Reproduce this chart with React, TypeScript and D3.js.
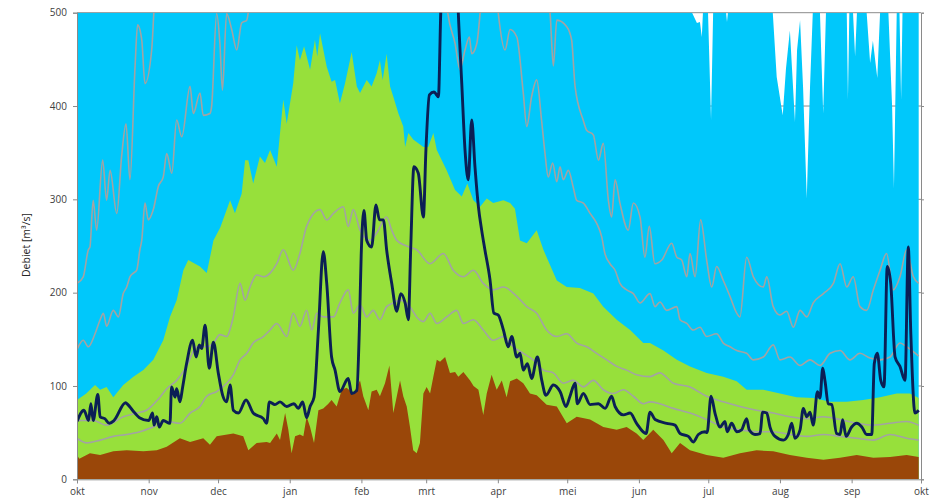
import { useEffect, useRef } from "react";
import * as d3 from "d3";

type Pt = [number, number];

// axis categories
const monthLabels = ["okt", "nov", "dec", "jan", "feb", "mrt", "apr", "mei", "jun", "jul", "aug", "sep", "okt"];
const monthStartDays = [0, 31, 61, 92, 123, 151, 182, 212, 243, 273, 304, 335, 365];
const yTicks = [0, 100, 200, 300, 400, 500];

// [days since 1 okt, m³/s]
const maxFlow: Pt[] = [
  [0, 500], [266, 500], [268.1, 489], [269.4, 490], [270.2, 474], [270.7, 500], [272.9, 500], [274.2, 385],
  [275.1, 500], [280.7, 500], [281.1, 490], [281.5, 500], [300.9, 500], [302.6, 431], [305.2, 390],
  [306.6, 440], [308.3, 481], [310.5, 383], [311.4, 460], [312.7, 492], [314, 420], [315.6, 301], [317, 420],
  [318.2, 500], [321.3, 500], [322.7, 392], [323.9, 500], [332.9, 500], [333.4, 407], [334, 500], [335.6, 500],
  [336.5, 453], [337.3, 500], [341.5, 500], [343, 446], [344.2, 470], [346.1, 430], [347.3, 500], [350.9, 500],
  [352.5, 400], [353.3, 312], [354.5, 500], [355.7, 500], [356.4, 407], [357, 500], [364, 500],
];

const upperBand: Pt[] = [
  [0, 85], [4, 92], [7.8, 101], [10, 96], [12.8, 99], [15.7, 88], [20, 101], [24.4, 110], [28.7, 117], [33, 128],
  [37.3, 149], [40.2, 174], [43.1, 192], [46, 224], [48.1, 235], [53.2, 228], [56.1, 221], [58.2, 246], [59, 256],
  [62, 270], [66.2, 299], [68.3, 285], [71.2, 306], [72.7, 342], [74.1, 342], [76.2, 317], [79.1, 346], [81.3, 339],
  [83.5, 353], [86.4, 335], [89.2, 407], [90.7, 381], [93.5, 424], [95, 465], [96.4, 449], [98.2, 464],
  [100.8, 439], [102.9, 471], [103.9, 453], [105.1, 478], [108, 442], [110.1, 426], [111.6, 428], [113.7, 403],
  [115.9, 424], [118.8, 458], [121, 421], [122.4, 414], [125.3, 428], [127.4, 421], [129.6, 435], [131, 449],
  [132.2, 428], [133.9, 456], [135.4, 421], [136.8, 410], [139, 392], [141.1, 378], [141.9, 356], [143.3, 371],
  [145.4, 364], [147.6, 360], [149.8, 356], [151.9, 356], [154.1, 371], [155.6, 353], [159.9, 331], [163.5, 310],
  [166.4, 303], [168.8, 317], [171.4, 299], [174.3, 292], [177.2, 301], [180, 296], [184.4, 299], [187.3, 296],
  [189.4, 290], [191.6, 256], [194.5, 253], [198.8, 267], [201.7, 246], [203.1, 238], [207.5, 213], [211.8, 206],
  [217.5, 205], [223.3, 199], [227.6, 185], [233.4, 171], [239.2, 160], [244.9, 146], [247.8, 146], [253.6, 138],
  [259.4, 128], [265.1, 121], [272.3, 114], [279.5, 110], [285.3, 105], [289.6, 96], [296.8, 96], [304, 92],
  [311.2, 88], [318.4, 87], [325.7, 83], [332.9, 83], [340, 85], [347.3, 88], [354.5, 92], [360.2, 92], [364, 87],
];

const lowerBand: Pt[] = [
  [0, 26], [1, 22], [5.6, 28], [10, 26], [15.7, 30], [21.5, 31], [28.7, 30], [34.5, 31], [38.8, 35], [44.5, 44],
  [48.9, 40], [54.6, 44], [57.5, 37], [60.4, 46], [67.6, 49], [71.9, 46], [74.1, 31], [77.7, 39], [82, 40],
  [83.5, 39], [86.4, 49], [87.8, 42], [90, 71], [91.4, 53], [92.8, 28], [94.3, 46], [96.4, 48], [97.9, 46],
  [99.3, 67], [100.8, 56], [102.5, 39], [104.4, 74], [106.5, 76], [108.7, 81], [110.1, 85], [112.3, 78],
  [114.5, 96], [116.6, 98], [119.5, 92], [122.4, 106], [123.8, 89], [126, 74], [127.4, 94], [129.6, 96],
  [131, 89], [133.2, 103], [135.1, 122], [136.8, 71], [138.3, 89], [139.7, 106], [141.1, 89], [142.6, 78],
  [144, 56], [145.4, 31], [146.9, 28], [148.3, 39], [149.8, 92], [151.2, 99], [152.7, 92], [154.1, 110],
  [155.6, 128], [157, 126], [159.2, 131], [161.3, 114], [163.5, 115], [164.9, 110], [167.1, 115], [170, 106],
  [171.5, 100], [173.6, 96], [175.7, 69], [177.2, 92], [179.3, 112], [181.5, 96], [183.7, 106], [185.8, 88],
  [187.3, 105], [190.2, 108], [193, 103], [195.9, 92], [198.8, 90], [203.1, 80], [207.5, 78], [211.8, 60],
  [216.1, 67], [221.9, 64], [227.6, 56], [233.4, 53], [237.7, 56], [242, 49], [244.9, 42], [249.2, 53],
  [253.6, 42], [257.2, 28], [260.8, 39], [265.1, 31], [272.3, 26], [279.5, 23], [286.7, 28], [293.9, 31],
  [301.1, 30], [308.3, 26], [315.6, 23], [322.8, 21], [330, 23], [337.2, 26], [344.4, 23], [351.6, 24],
  [358.8, 26], [364, 24],
];

// grey reference years (values above 500 run off the top of the chart)
const greyA: Pt[] = [
  [0, 210], [2.7, 217], [4.9, 246], [5.6, 249], [7, 299], [8.5, 267], [11.1, 342], [12.8, 299], [14.3, 331],
  [17.2, 285], [19.3, 346], [21.2, 381], [22.9, 321], [25.1, 442], [26.2, 487], [28, 471], [29.4, 424],
  [32.3, 460], [33.3, 503], [35, 560], [200, 560], [204.6, 499], [206, 443], [207.5, 492], [211.8, 485],
  [213.9, 471], [215.4, 421], [218.9, 385], [220.4, 374], [223.3, 369], [225.5, 342], [227.6, 360], [229.8, 299],
  [231.2, 281], [232.7, 321], [234.8, 296], [238.4, 267], [240.6, 296], [243.5, 281], [245.6, 238], [247.5, 271],
  [249.9, 231], [252.9, 235], [257.2, 253], [259.4, 238], [261.5, 235], [263.7, 217], [265.1, 242], [267.3, 217],
  [269.7, 278], [272.3, 235], [274.5, 206], [276.6, 228], [279.5, 213], [282.4, 196], [285.3, 178], [286.7, 174],
  [289.6, 238], [292.5, 217], [296.8, 206], [298.3, 217], [301.1, 185], [304, 176], [306.9, 180], [309.8, 163],
  [312.7, 181], [315.6, 174], [318.4, 189], [322.8, 199], [327.1, 210], [330, 231], [332.9, 206], [335.7, 217],
  [338.6, 185], [341.5, 181], [344.4, 203], [347.3, 224], [350.1, 242], [353, 203], [355.9, 217], [358.8, 246],
  [361.7, 217], [364, 210],
];

const greyB: Pt[] = [
  [0, 139], [2.7, 149], [4.9, 142], [7.8, 156], [10, 171], [11.4, 178], [12.8, 164], [15.7, 181], [17.9, 174],
  [20, 199], [21.5, 206], [22.9, 217], [24.4, 221], [25.8, 224], [27.2, 246], [28, 256], [29.4, 296], [30.8, 278],
  [33, 289], [35.2, 314], [37.3, 324], [38.8, 349], [41, 328], [43.1, 385], [45.3, 367], [48.9, 421], [50.3, 392],
  [53.2, 414], [54.6, 390], [57.5, 392], [58.2, 399], [60.4, 499], [61.8, 467], [62.9, 417], [64.7, 499],
  [66.9, 482], [69.1, 460], [71.2, 489], [73.4, 492], [74.5, 510], [76, 560], [158, 560], [160.4, 499],
  [163.5, 467], [165.6, 439], [167.8, 460], [169.7, 474], [170.7, 456], [172.9, 467], [174.3, 499], [176, 560],
  [180, 560], [182.2, 499], [185.1, 460], [187.3, 482], [190.2, 474], [193, 414], [194.5, 378], [196.6, 410],
  [198.8, 428], [200.9, 385], [202.4, 349], [203.8, 324], [205.7, 339], [207.5, 319], [208.9, 335], [210.3, 321],
  [212.5, 331], [214.6, 313], [216.1, 299], [219, 296], [221.9, 285], [224.8, 274], [226.9, 260], [228.3, 242],
  [230.5, 231], [232.7, 224], [234.8, 210], [237.7, 203], [240.6, 199], [243.5, 189], [247.8, 199], [250, 185],
  [252.1, 190], [255, 181], [259.4, 185], [260.8, 171], [263.7, 167], [266.5, 160], [269.4, 163], [272.3, 153],
  [276.6, 156], [279.5, 146], [282.4, 142], [285.3, 138], [289.6, 135], [292.5, 128], [296.8, 131], [301.1, 144],
  [304, 128], [308.3, 131], [312.7, 122], [317, 128], [321.3, 122], [325.7, 135], [330, 138], [334.3, 128],
  [338.6, 135], [342.9, 130], [347.3, 128], [351.6, 131], [355.9, 146], [358.8, 142], [364, 132],
];

const greyC: Pt[] = [
  [0, 63], [7, 63], [12.8, 58], [20, 67], [25.8, 71], [30.1, 74], [35.9, 88], [38.8, 97], [43.1, 106], [47.4, 121],
  [51.8, 142], [56.1, 142], [59, 146], [61.8, 155], [64.7, 153], [67.6, 174], [70.5, 210], [72.7, 192],
  [74.8, 206], [77.7, 219], [80.6, 217], [83.5, 221], [86.4, 231], [89.2, 246], [93.5, 224], [96.4, 242],
  [99.3, 271], [105.1, 289], [108, 278], [110.9, 285], [115.2, 292], [117.3, 271], [119.5, 289], [122.4, 267],
  [126.7, 256], [129.6, 264], [133.9, 281], [136.1, 267], [138.3, 256], [142.6, 250], [146.9, 246], [152.7, 231],
  [158.4, 242], [162.7, 224], [167.1, 217], [171.4, 224], [175.7, 210], [180, 203], [184.4, 206], [190.2, 196],
  [194.5, 185], [198.8, 178], [203.1, 160], [207.5, 153], [211.8, 156], [216.1, 146], [220.4, 142], [224.7, 135],
  [229.1, 128], [233.4, 121], [237.7, 117], [242, 112], [247.8, 110], [252, 114], [257.9, 103], [265.1, 99],
  [272.3, 89], [279.5, 83], [286.7, 78], [293.9, 74], [301.1, 71], [308.3, 67], [315.6, 65], [322.8, 67],
  [330, 64], [337.2, 60], [344.4, 58], [351.6, 60], [358.8, 62], [364, 58],
];

const greyD: Pt[] = [
  [0, 44], [4.2, 39], [10, 42], [15.7, 46], [21.5, 48], [27.2, 51], [33, 56], [38.8, 62], [44.5, 60], [48.9, 71],
  [53.2, 78], [56.1, 89], [60.4, 94], [64.7, 103], [67.6, 112], [70.5, 128], [73.4, 135], [76.2, 146],
  [80.6, 153], [83.5, 160], [86.4, 167], [90.7, 153], [93.5, 178], [96.4, 164], [99.3, 181], [101.5, 160],
  [103.7, 178], [106.5, 174], [110.9, 174], [113.7, 189], [117.3, 203], [119.5, 178], [122.4, 187], [125.3, 174],
  [128.1, 181], [131, 171], [133.9, 185], [136.8, 189], [139.7, 192], [144, 185], [146.9, 174], [149.8, 169],
  [152.7, 178], [155.6, 167], [159.9, 174], [164.2, 181], [167.1, 167], [171.4, 171], [175.7, 160], [180, 149],
  [184.4, 153], [188.7, 142], [193, 135], [197.3, 128], [201.7, 117], [206, 114], [210.3, 103], [214.6, 106],
  [219, 99], [223.3, 106], [227.6, 96], [231.9, 92], [236.3, 96], [240.6, 89], [244.9, 81], [247.8, 83],
  [252, 81], [257.9, 76], [265.1, 71], [272.3, 64], [279.5, 56], [286.7, 53], [293.9, 51], [301.1, 51],
  [308.3, 48], [315.6, 46], [322.8, 48], [330, 46], [337.2, 44], [344.4, 42], [351.6, 48], [358.8, 44], [364, 42],
];

const currentYear: Pt[] = [
  [0, 62], [3, 74], [5, 63], [6, 81], [7, 63], [9, 91], [10, 67], [12, 65], [14, 60], [16, 63], [21, 82], [22, 80],
  [24, 74], [27, 66], [31, 63], [32.7, 71], [33.3, 58], [34.5, 67], [35.6, 56], [37.3, 63], [40.2, 60], [40.9, 99],
  [42.4, 88], [43.1, 97], [44.5, 83], [45.7, 99], [47.4, 124], [50, 149], [51.5, 131], [52.9, 144], [53.9, 140],
  [55.4, 165], [57.2, 119], [59, 147], [61.1, 114], [63, 90], [64.7, 83], [66.2, 101], [67.6, 74], [69.8, 71],
  [73.1, 85], [76.2, 71], [80.6, 65], [82, 60], [83.2, 83], [85.6, 80], [87.8, 83], [90.7, 78], [93.8, 81],
  [95.7, 76], [97.6, 83], [99.3, 66], [100.8, 78], [102.5, 88], [104.4, 160], [106.5, 244], [108, 210],
  [110.1, 131], [111.6, 117], [113.7, 94], [117.3, 108], [118.8, 92], [121, 95], [122.1, 160], [122.9, 240],
  [124.1, 288], [125.3, 256], [127.4, 249], [129.3, 294], [130.8, 278], [132.5, 278], [133.9, 246], [136.1, 210],
  [138.3, 180], [140, 199], [141.9, 189], [143.3, 171], [144.3, 246], [145.7, 335], [147.6, 328], [149.8, 281],
  [150.9, 353], [152.4, 412], [154.4, 415], [156.3, 410], [157.3, 499], [158.5, 560], [164, 560], [164.9, 500],
  [166.4, 424], [167.8, 353], [169.2, 321], [170.7, 385], [172.1, 335], [173.6, 292], [175, 267], [176.4, 246],
  [178.6, 214], [180.3, 178], [182.2, 176], [184.4, 160], [186.5, 142], [188, 153], [190.2, 131], [191.6, 135],
  [193, 117], [194.8, 124], [196.6, 108], [199.1, 131], [201, 106], [202.8, 90], [206, 101], [208.9, 94],
  [211.5, 78], [213.2, 89], [215.4, 103], [216.4, 81], [219, 92], [221.9, 80], [225.5, 81], [228.4, 76],
  [231.2, 89], [232.7, 78], [236.3, 69], [239.2, 71], [242, 60], [246.1, 49], [247.8, 72], [250, 64], [255, 60],
  [258.6, 58], [260.8, 49], [264.4, 46], [266.5, 40], [268.7, 48], [271.6, 51], [272.5, 50], [274.2, 89],
  [275.9, 71], [278.1, 56], [280.2, 62], [281.2, 51], [283.1, 60], [285.3, 51], [287.4, 53], [289.6, 65],
  [290.7, 53], [293.2, 48], [295.4, 49], [296.5, 72], [298.3, 71], [299.7, 56], [301.9, 46], [305.5, 42],
  [307.6, 48], [309.1, 60], [310.5, 44], [312.7, 53], [314.1, 76], [315.6, 67], [317, 72], [318.4, 58],
  [320.2, 94], [321.3, 87], [322.5, 119], [323.5, 105], [324.9, 81], [326.4, 80], [328.5, 49], [330, 48],
  [331.1, 64], [332.6, 46], [335, 56], [337.2, 60], [339.4, 56], [341.5, 48], [343.7, 48], [344.8, 124],
  [346.1, 135], [347.6, 106], [349, 99], [350.4, 228], [351.9, 210], [353.8, 131], [355.9, 121], [358.1, 106],
  [359.5, 249], [360.6, 156], [362.4, 71], [364, 74],
];

export default function App() {
  const ref = useRef<SVGSVGElement>(null);

  useEffect(() => {
    if (!ref.current) return;
    const svg = d3.select(ref.current);
    svg.selectAll("*").remove();

    const W = 938;
    const H = 501;
    const m = { top: 12.7, right: 17, bottom: 21.7, left: 77 };

    const x = d3.scaleLinear().domain([0, 365]).range([m.left, W - m.right]);
    const y = d3.scaleLinear().domain([0, 500]).range([H - m.bottom, m.top]);

    svg.attr("viewBox", `0 0 ${W} ${H}`).attr("width", W).attr("height", H);

    svg
      .append("defs")
      .append("clipPath")
      .attr("id", "plot-clip")
      .append("rect")
      .attr("x", x(0))
      .attr("y", y(500))
      .attr("width", x(365) - x(0))
      .attr("height", y(0) - y(500));

    // grid (only shows through the gaps in the max band)
    svg
      .append("g")
      .selectAll("line")
      .data(yTicks.slice(1))
      .join("line")
      .attr("x1", x(0))
      .attr("x2", x(365))
      .attr("y1", (d) => y(d))
      .attr("y2", (d) => y(d))
      .attr("stroke", "#8c8c8c")
      .attr("stroke-width", 1);

    const plot = svg.append("g").attr("clip-path", "url(#plot-clip)");

    const area = d3
      .area<Pt>()
      .x((d) => x(d[0]))
      .y0(y(0))
      .y1((d) => y(Math.min(d[1], 500)));

    plot.append("path").datum(maxFlow).attr("d", area).attr("fill", "#00c8fb");
    plot.append("path").datum(upperBand).attr("d", area).attr("fill", "#97e03b");
    plot.append("path").datum(lowerBand).attr("d", area).attr("fill", "#9a4709");

    const line = d3
      .line<Pt>()
      .x((d) => x(d[0]))
      .y((d) => y(d[1]))
      .curve(d3.curveMonotoneX);

    [greyA, greyB, greyC, greyD].forEach((s) => {
      plot
        .append("path")
        .datum(s)
        .attr("d", line)
        .attr("fill", "none")
        .attr("stroke", "#a3a3a3")
        .attr("stroke-width", 1.6)
        .attr("stroke-linejoin", "round");
    });

    plot
      .append("path")
      .datum(currentYear)
      .attr("d", line)
      .attr("fill", "none")
      .attr("stroke", "#0b1f55")
      .attr("stroke-width", 2.9)
      .attr("stroke-linejoin", "round");

    // axes
    const axisColor = "#8a8a8a";
    const font = "'Open Sans', 'Liberation Sans', sans-serif";

    svg
      .append("g")
      .attr("transform", `translate(${x(0)},0)`)
      .call(d3.axisLeft(y).tickValues(yTicks).tickSize(4).tickPadding(6))
      .call((a) => {
        a.select(".domain").attr("stroke", axisColor);
        a.selectAll("line").attr("stroke", axisColor);
        a.selectAll("text").attr("font-size", 10).attr("font-family", font).attr("fill", "#404040");
      });

    svg
      .append("g")
      .attr("transform", `translate(${x(365)},0)`)
      .call(d3.axisRight(y).tickValues(yTicks).tickSize(3).tickFormat(() => ""))
      .call((a) => {
        a.select(".domain").attr("stroke", axisColor);
        a.selectAll("line").attr("stroke", axisColor);
      });

    svg
      .append("g")
      .attr("transform", `translate(0,${y(0)})`)
      .call(
        d3
          .axisBottom(x)
          .tickValues(monthStartDays)
          .tickSize(4)
          .tickPadding(5)
          .tickFormat((_, i) => monthLabels[i]),
      )
      .call((a) => {
        a.select(".domain").attr("stroke", axisColor);
        a.selectAll("line").attr("stroke", axisColor);
        a.selectAll("text").attr("font-size", 10).attr("font-family", font).attr("fill", "#404040");
      });

    // y label
    svg
      .append("text")
      .attr("transform", "rotate(-90)")
      .attr("x", -245)
      .attr("y", 30)
      .attr("text-anchor", "middle")
      .attr("font-size", 10.5)
      .attr("font-family", font)
      .attr("fill", "#262626")
      .text("Debiet [m³/s]");
  }, []);

  return (
    <div style={{ position: "absolute", left: 0, top: 0, background: "#fff" }}>
      <svg ref={ref} style={{ display: "block" }} />
    </div>
  );
}
